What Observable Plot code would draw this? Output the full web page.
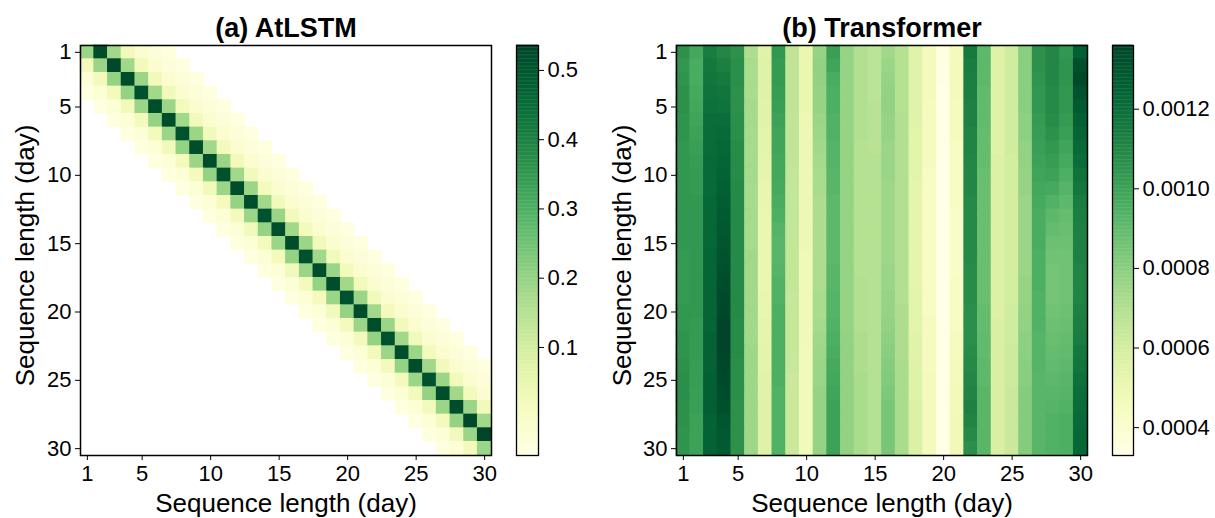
<!DOCTYPE html>
<html><head><meta charset="utf-8">
<script src="https://cdn.jsdelivr.net/npm/d3@7"></script>
<script src="https://cdn.jsdelivr.net/npm/@observablehq/plot@0.6"></script>
<style>
body{margin:0;background:#fff;}
#chart{position:relative;width:1215px;height:518px;overflow:hidden;background:#fff;}
#chart svg{position:absolute;top:0;}
</style></head><body><div id="chart"></div>
<script>
const FONT = '"Liberation Sans", Arial, sans-serif';
const days = [1,2,3,4,5,6,7,8,9,10,11,12,13,14,15,16,17,18,19,20,21,22,23,24,25,26,27,28,29,30];
const tickDays = [1,5,10,15,20,25,30];
const axisLabel = "Sequence length (day)";
const titles = ["(a) AtLSTM", "(b) Transformer"];

// (a) AtLSTM: for each row, first column with a value, then the values of the band (other cells are blank)
const atlstmStart = [1,1,1,1,2,3,4,5,6,7,8,9,10,11,12,13,14,15,16,17,18,19,20,21,22,23,24,25,26,27];
const atlstmBand = [
  [0.19,0.52,0.18,0.025,-0.02,-0.035,-0.045],
  [0.02,0.19,0.53,0.18,0.025,-0.02,-0.035,-0.045],
  [-0.03,0.02,0.20,0.52,0.19,0.025,-0.02,-0.035,-0.045],
  [-0.045,-0.03,0.02,0.20,0.51,0.18,0.025,-0.02,-0.035,-0.045],
  [-0.045,-0.03,0.025,0.19,0.52,0.19,0.02,-0.02,-0.035,-0.045],
  [-0.045,-0.03,0.02,0.20,0.52,0.18,0.025,-0.02,-0.035,-0.045],
  [-0.045,-0.03,0.02,0.19,0.51,0.19,0.025,-0.02,-0.035,-0.045],
  [-0.045,-0.03,0.025,0.20,0.52,0.18,0.02,-0.02,-0.035,-0.045],
  [-0.045,-0.03,0.02,0.19,0.52,0.19,0.025,-0.02,-0.035,-0.045],
  [-0.045,-0.03,0.02,0.20,0.51,0.18,0.025,-0.02,-0.035,-0.045],
  [-0.045,-0.03,0.025,0.19,0.52,0.19,0.02,-0.02,-0.035,-0.045],
  [-0.045,-0.03,0.02,0.20,0.52,0.18,0.025,-0.02,-0.035,-0.045],
  [-0.045,-0.03,0.02,0.19,0.51,0.19,0.025,-0.02,-0.035,-0.045],
  [-0.045,-0.03,0.025,0.20,0.52,0.18,0.02,-0.02,-0.035,-0.045],
  [-0.045,-0.03,0.02,0.19,0.52,0.19,0.025,-0.02,-0.035,-0.045],
  [-0.045,-0.03,0.02,0.20,0.51,0.18,0.025,-0.02,-0.035,-0.045],
  [-0.045,-0.03,0.025,0.19,0.52,0.19,0.02,-0.02,-0.035,-0.045],
  [-0.045,-0.03,0.02,0.20,0.52,0.18,0.025,-0.02,-0.035,-0.045],
  [-0.045,-0.03,0.02,0.19,0.51,0.19,0.025,-0.02,-0.035,-0.045],
  [-0.045,-0.03,0.025,0.20,0.52,0.18,0.02,-0.02,-0.035,-0.045],
  [-0.045,-0.03,0.02,0.19,0.52,0.19,0.025,-0.02,-0.035,-0.045],
  [-0.045,-0.03,0.02,0.20,0.51,0.18,0.025,-0.02,-0.035,-0.045],
  [-0.045,-0.03,0.025,0.19,0.52,0.19,0.02,-0.02,-0.035,-0.045],
  [-0.045,-0.03,0.02,0.20,0.52,0.18,0.025,-0.02,-0.035,-0.045],
  [-0.045,-0.03,0.02,0.19,0.51,0.19,0.025,-0.02,-0.035],
  [-0.045,-0.03,0.025,0.20,0.52,0.18,0.02,-0.02],
  [-0.045,-0.03,0.02,0.19,0.52,0.19,0.025],
  [-0.045,-0.03,0.02,0.20,0.53,0.18],
  [-0.045,-0.03,0.025,0.19,0.536],
  [-0.045,-0.03,0.02,0.19]
];

// (b) Transformer: full 30x30 grid, in units of 1e-5
const transformerUnit = 1e-5;
const transformerRows = [
  [106, 98,114,110,106,71,55,104,66,51,77,101,77,70,67,74,69,55,46,35,46,115,91,56,61,80,106,110,104,126],
  [104, 96,116,113,107,72,56,103,66,51,78, 99,77,70,67,76,69,55,46,34,46,114,91,56,61,80,106,110,105,132],
  [105, 96,117,115,107,72,56,103,66,51,78, 96,77,70,67,77,69,55,46,34,46,113,91,56,61,80,105,110,105,134],
  [106, 97,118,117,106,72,56,102,66,51,77, 95,77,70,67,78,69,55,46,33,46,113,90,56,61,80,104,109,104,131],
  [106, 98,119,118,106,73,55,101,66,51,77, 95,77,70,68,78,69,55,45,33,45,112,90,56,61,80,104,109,104,128],
  [105, 99,120,120,107,73,55,100,66,50,76, 94,77,70,68,77,70,55,45,32,45,112,90,56,61,79,103,108,103,126],
  [105,100,121,122,107,73,54, 99,66,50,75, 94,77,70,68,77,70,54,45,32,45,111,89,56,61,79,102,106,101,124],
  [104,101,121,123,108,73,54, 99,66,50,74, 93,77,69,68,76,70,54,45,32,44,111,89,56,61,78,101,104, 99,122],
  [104,102,122,124,108,73,53, 98,66,50,73, 93,77,69,69,76,70,54,45,31,44,110,89,57,60,78,100,102, 97,120],
  [104,103,122,125,108,73,53, 98,65,49,72, 92,77,69,69,76,70,54,44,31,44,110,88,57,60,77, 99,100, 95,118],
  [104,103,122,126,109,73,52, 97,65,49,72, 92,77,69,69,75,70,53,44,30,43,110,88,57,60,77, 98, 97, 93,116],
  [104,104,123,127,109,73,52, 96,65,49,71, 91,77,69,69,75,70,53,44,30,43,109,88,57,60,76, 97, 94, 91,114],
  [104,104,123,128,109,73,51, 95,65,49,71, 91,77,69,69,75,70,53,44,29,42,109,88,57,60,76, 96, 91, 89,113],
  [104,104,123,129,109,73,51, 93,65,49,71, 91,77,69,69,75,70,53,44,29,42,109,88,57,60,76, 96, 89, 88,112],
  [104,104,123,130,109,73,51, 92,65,49,71, 91,77,69,69,75,70,53,44,29,42,109,88,57,60,76, 96, 87, 87,112],
  [103,104,124,131,109,74,51, 92,65,48,71, 91,77,69,69,75,70,53,44,28,42,109,88,57,60,76, 95, 86, 86,112],
  [103,104,124,132,109,74,51, 93,65,48,71, 92,77,69,69,76,70,53,44,28,42,108,88,57,60,76, 95, 85, 86,111],
  [103,104,124,133,109,74,51, 94,65,48,71, 92,77,70,69,76,70,53,44,28,43,108,88,57,60,77, 95, 85, 86,111],
  [103,104,124,134,109,74,52, 94,64,48,72, 93,77,70,69,77,70,54,44,28,43,108,88,57,60,77, 94, 85, 86,111],
  [104,104,124,135,109,74,52, 95,64,48,72, 93,77,70,69,77,71,54,44,28,44,107,89,57,61,78, 94, 86, 87,112],
  [104,103,124,136,108,74,53, 95,64,48,73, 94,77,70,69,78,71,54,45,29,44,107,89,58,61,78, 94, 87, 88,113],
  [105,103,125,136,108,74,53, 95,64,48,74, 95,78,71,69,79,71,55,45,29,45,107,90,58,61,79, 93, 88, 89,114],
  [105,103,125,136,108,75,54, 95,64,47,75, 96,78,71,69,80,71,55,45,29,45,108,90,58,62,79, 93, 89, 90,116],
  [106,102,125,135,107,75,54, 95,64,47,76, 97,78,71,69,81,72,56,45,30,46,109,91,58,62,80, 93, 90, 91,117],
  [107,102,126,134,107,75,55, 95,63,47,76, 98,78,72,69,82,72,56,46,30,46,110,91,58,62,80, 92, 91, 92,119],
  [107,101,126,133,107,75,55, 94,63,47,77, 99,78,72,69,83,72,56,46,30,47,111,92,58,63,81, 92, 92, 93,120],
  [106,101,126,132,106,75,56, 94,63,47,77,100,78,72,69,84,72,57,46,31,47,112,92,58,63,81, 92, 93, 94,121],
  [106,100,125,130,106,75,56, 94,63,47,77,100,78,72,69,84,72,57,46,31,48,111,92,58,63,81, 92, 94, 95,122],
  [105,100,125,129,106,75,56, 94,63,47,77,100,78,72,69,84,72,57,46,31,48,109,92,58,63,81, 92, 94, 95,123],
  [105,100,125,128,106,75,56, 94,63,47,77,100,78,72,69,84,72,57,46,31,48,107,92,58,63,81, 92, 94, 95,123]
];

const atlstmDomain = [-0.056, 0.536];
const transformerDomain = [0.00033, 0.00136];
const atlstmTicks = [0.1, 0.2, 0.3, 0.4, 0.5];
const transformerTicks = [0.0004, 0.0006, 0.0008, 0.0010, 0.0012];

// build tables
const atlstmData = [];
atlstmBand.forEach((vals, r) => vals.forEach((v, k) => atlstmData.push({row: days[r], col: atlstmStart[r] + k, value: v})));
const transformerData = [];
transformerRows.forEach((vals, r) => vals.forEach((v, c) => transformerData.push({row: days[r], col: days[c], value: v * transformerUnit})));

const H = 518, MT = 45, MB = 63;
const style = {fontFamily: FONT, fontSize: "22px", color: "#000", background: "transparent", overflow: "visible"};

function heatmap({data, domain, title, width, marginLeft, marginRight, ylabDx}) {
  return Plot.plot({
    width, height: H, marginLeft, marginRight, marginTop: MT, marginBottom: MB,
    style,
    x: {type: "band", domain: days, padding: 0, round: false, axis: null},
    y: {type: "band", domain: days, padding: 0, round: false, axis: null},
    color: {type: "linear", scheme: "YlGn", domain, clamp: true},
    marks: [
      Plot.cell(data, {x: "col", y: "row", fill: "value", inset: -0.35}),
      Plot.frame({stroke: "#000", strokeWidth: 1.5}),
      Plot.axisX({ticks: tickDays, tickSize: 5, tickPadding: 5, fontSize: 22, label: null, tickFormat: d => d}),
      Plot.axisY({ticks: tickDays, tickSize: 5, tickPadding: 4, fontSize: 22, label: null, tickFormat: d => d}),
      Plot.text([title], {text: d => d, frameAnchor: "top", textAnchor: "middle", lineAnchor: "middle", dy: -17, fontSize: 27, fontWeight: "bold", fill: "#000"}),
      Plot.text([axisLabel], {text: d => d, frameAnchor: "bottom", textAnchor: "middle", lineAnchor: "middle", dy: 48, fontSize: 26, fill: "#000"}),
      Plot.text([axisLabel], {text: d => d, frameAnchor: "left", textAnchor: "middle", lineAnchor: "middle", rotate: -90, dx: ylabDx, dy: 5, fontSize: 26, fill: "#000"})
    ]
  });
}

function colorbar({domain, ticks, format, width, marginLeft, marginRight}) {
  const n = 300;
  const steps = d3.range(n).map(i => ({
    a: domain[0] + (domain[1] - domain[0]) * i / n,
    b: domain[0] + (domain[1] - domain[0]) * (i + 1) / n
  }));
  return Plot.plot({
    width, height: H, marginLeft, marginRight, marginTop: MT, marginBottom: MB,
    style,
    x: {domain: [0, 1], axis: null},
    y: {domain, axis: null},
    color: {type: "linear", scheme: "YlGn", domain},
    marks: [
      Plot.rect(steps, {x1: d => 0, x2: d => 1, y1: "a", y2: "b", fill: d => (d.a + d.b) / 2, insetTop: -0.4}),
      Plot.frame({stroke: "#000", strokeWidth: 1.3}),
      Plot.axisY({anchor: "right", ticks, tickFormat: format, tickSize: 5, tickPadding: 4, fontSize: 22, label: null})
    ]
  });
}

const chart = document.getElementById("chart");
const place = (el, left) => { el.style.left = left + "px"; chart.appendChild(el); };

place(heatmap({data: atlstmData, domain: atlstmDomain, title: titles[0], width: 500, marginLeft: 80, marginRight: 9, ylabDx: -55}), 0);
place(colorbar({domain: atlstmDomain, ticks: atlstmTicks, format: d3.format(".1f"), width: 90, marginLeft: 11, marginRight: 57}), 505);
place(heatmap({data: transformerData, domain: transformerDomain, title: titles[1], width: 500, marginLeft: 76, marginRight: 13, ylabDx: -54}), 600);
place(colorbar({domain: transformerDomain, ticks: transformerTicks, format: d3.format(".4f"), width: 115, marginLeft: 12, marginRight: 82}), 1100);
</script></body></html>
